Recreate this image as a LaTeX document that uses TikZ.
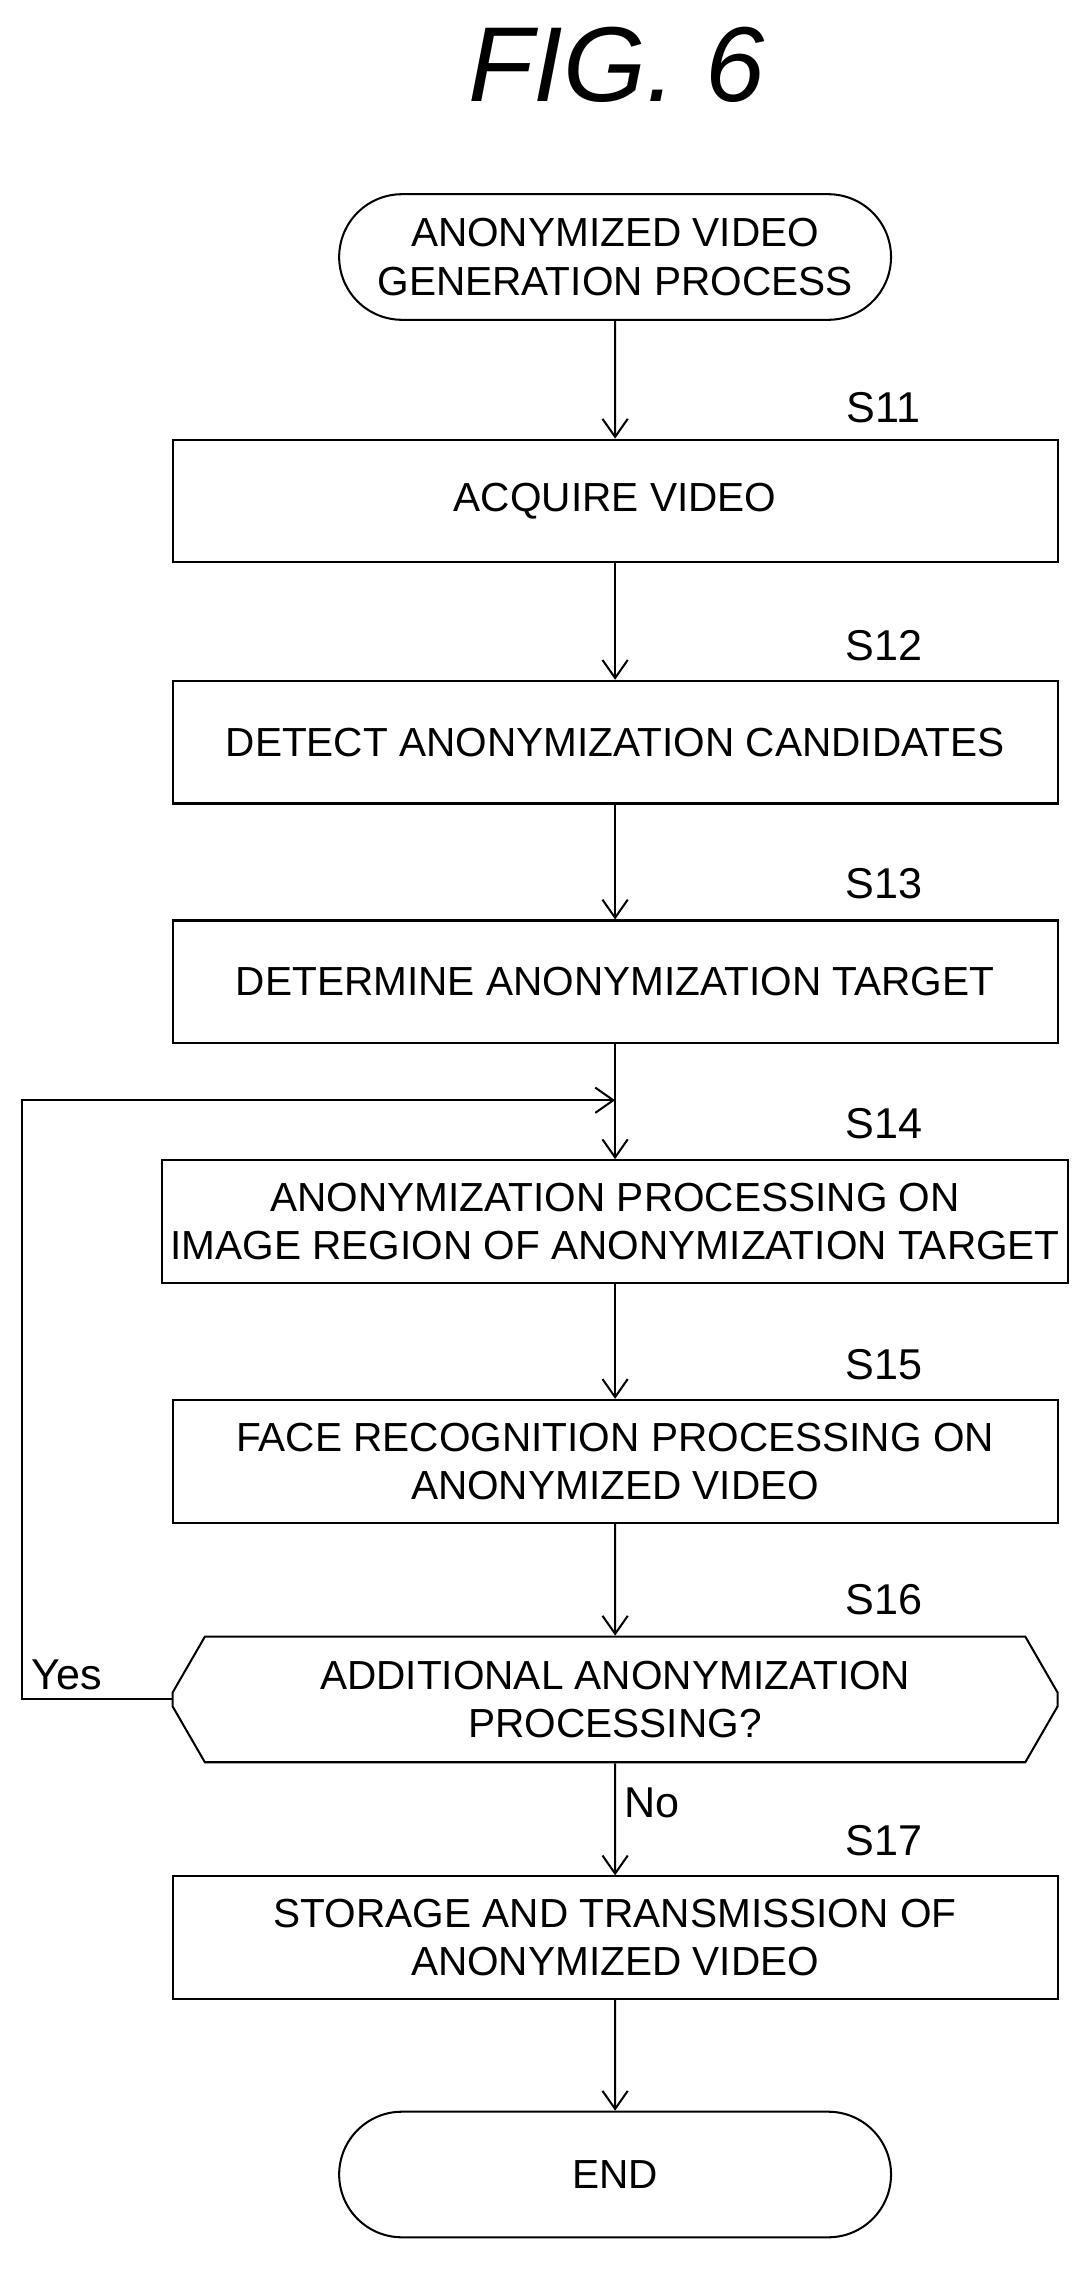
\documentclass[tikz,border=0pt]{standalone}
\usepackage{fontspec}
\setmainfont{Liberation Sans}
\usetikzlibrary{shapes.misc,shapes.geometric,arrows.meta}
\begin{document}
\begin{tikzpicture}[x=0.02cm,y=-0.02cm]
  % Estilos
  \tikzset{
      procbox/.style={draw, line width=0.8pt, minimum width=12.26cm, minimum height=1.7cm, align=center, font=\fontsize{16}{19}\selectfont},
      term/.style={draw, line width=0.8pt, rounded rectangle, minimum width=7.88cm, minimum height=1.74cm, align=center, font=\fontsize{16}{19}\selectfont},
      dec/.style={draw, line width=0.8pt, chamfered rectangle, chamfered rectangle xsep=0.8cm, chamfered rectangle angle=30, minimum width=12.26cm, minimum height=1.74cm, inner xsep=0pt, align=center, font=\fontsize{16}{19}\selectfont},
      tag/.style={font=\fontsize{17}{20}\selectfont},
      flow/.style={line width=0.8pt, -{Straight Barb[length=2.5mm,width=3.5mm]}}
  }
  \useasboundingbox (0,0) rectangle (750,1577);
  % Titulo
  \node[font=\fontsize{42}{46}\selectfont\itshape] (title) at (427,45) {FIG. 6};

  % Nos
  \node[term] (start) at (426,178) {ANONYMIZED VIDEO\\GENERATION PROCESS};
  \node[procbox] (s11) at (426,347) {ACQUIRE VIDEO};
  \node[procbox] (s12) at (426,514) {DETECT ANONYMIZATION CANDIDATES};
  \node[procbox] (s13) at (426,680) {DETERMINE ANONYMIZATION TARGET};
  \node[procbox] (s14) at (426,846) {ANONYMIZATION PROCESSING ON\\IMAGE REGION OF ANONYMIZATION TARGET};
  \node[procbox] (s15) at (426,1012) {FACE RECOGNITION PROCESSING ON\\ANONYMIZED VIDEO};
  \node[dec]  (s16) at (426,1177) {ADDITIONAL ANONYMIZATION\\PROCESSING?};
  \node[procbox] (s17) at (426,1342) {STORAGE AND TRANSMISSION OF\\ANONYMIZED VIDEO};
  \node[term] (end) at (426,1506) {END};

  % Rotulos dos passos
  \foreach \n/\y in {11/282,12/447,13/612,14/778,15/945,16/1108,17/1275}
    \node[tag] (l\n) at (612,\y) {S\n};

  % Ligacoes
  \draw[flow] (start) -- (s11);
  \draw[flow] (s11) -- (s12);
  \draw[flow] (s12) -- (s13);
  \draw[flow] (s13) -- (s14);
  \draw[flow] (s14) -- (s15);
  \draw[flow] (s15) -- (s16);
  \draw[flow] (s16) -- node[pos=0.35, right, tag] {No} (s17);
  \draw[flow] (s17) -- (end);

  % Laco de volta
  \coordinate (loop) at (426,762);
  \draw[flow] (s16.west) -- node[pos=0.7, above, tag] {Yes} (15,1177) -- (15,762) -- (loop);
\end{tikzpicture}
\end{document}
